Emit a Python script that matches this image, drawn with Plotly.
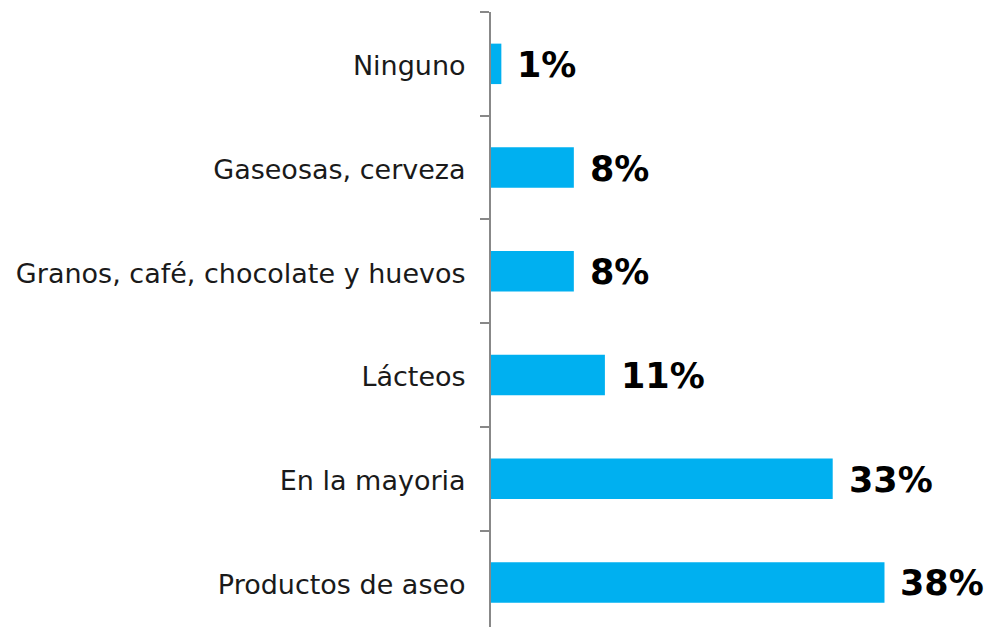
import plotly.graph_objects as go

# Categories listed bottom-to-top (Plotly puts the first category at the bottom)
categories = [
    "Productos de aseo",
    "En la mayoria",
    "Lácteos",
    "Granos, café, chocolate y huevos",
    "Gaseosas, cerveza",
    "Ninguno",
]
values = [38, 33, 11, 8, 8, 1]
value_labels = [f"{v}%" for v in values]

BAR_COLOR = "#00B0F0"
AXIS_COLOR = "#888888"

fig = go.Figure()
fig.add_trace(
    go.Bar(
        x=values,
        y=categories,
        orientation="h",
        marker=dict(color=BAR_COLOR, line=dict(width=0)),
        width=0.39,
        hoverinfo="skip",
    )
)

# Percentage labels to the right of each bar
for v, c, t in zip(values, categories, value_labels):
    fig.add_annotation(
        x=v,
        y=c,
        text=f"<b>{t}</b>",
        showarrow=False,
        xanchor="left",
        yanchor="middle",
        xshift=14,
        yshift=-1,
        font=dict(family="DejaVu Sans", size=35, color="#000000"),
    )

fig.update_layout(
    width=987,
    height=627,
    margin=dict(l=491, r=0, t=12, b=0),
    paper_bgcolor="white",
    plot_bgcolor="white",
    showlegend=False,
    xaxis=dict(
        range=[0, 47.9],
        visible=False,
        showgrid=False,
        zeroline=False,
    ),
    yaxis=dict(
        type="category",
        categoryorder="array",
        categoryarray=categories,
        range=[-0.43, 5.5],
        showline=True,
        linecolor=AXIS_COLOR,
        linewidth=2,
        ticks="outside",
        tickson="boundaries",
        ticklen=9,
        tickwidth=2,
        tickcolor=AXIS_COLOR,
        ticklabelstandoff=18,
        ticklabelshift=2,
        showgrid=False,
        zeroline=False,
        tickfont=dict(family="DejaVu Sans", size=27, color="#1a1a1a"),
    ),
)

fig.write_html("out.html")
